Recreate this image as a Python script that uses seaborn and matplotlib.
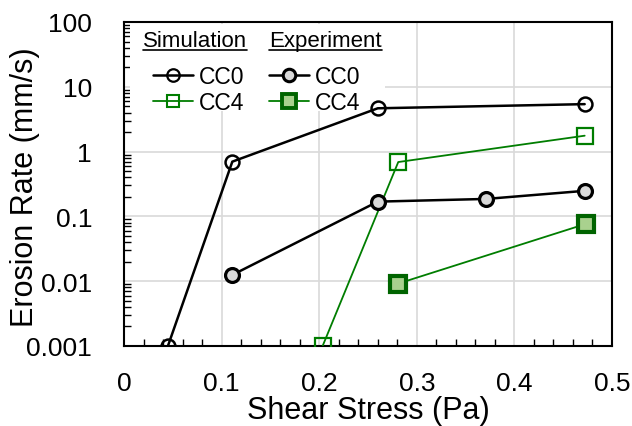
import matplotlib
matplotlib.use("Agg")
import matplotlib.pyplot as plt
import seaborn as sns
import numpy as np
from matplotlib.lines import Line2D
from matplotlib.ticker import MultipleLocator, LogLocator, NullFormatter

# Data
sim_cc0_x = [0.045, 0.111, 0.260, 0.472]
sim_cc0_y = [0.001, 0.70, 4.66, 5.4]
sim_cc4_x = [0.2035, 0.281, 0.472]
sim_cc4_y = [0.001, 0.69, 1.76]
exp_cc0_x = [0.111, 0.260, 0.371, 0.472]
exp_cc0_y = [0.0125, 0.169, 0.186, 0.248]
exp_cc4_x = [0.281, 0.473]
exp_cc4_y = [0.0092, 0.0764]
y_ticks = [0.001, 0.01, 0.1, 1, 10, 100]
y_tick_labels = ["0.001", "0.01", "0.1", "1", "10", "100"]
x_ticks = [0, 0.1, 0.2, 0.3, 0.4, 0.5]
x_tick_labels = ["0", "0.1", "0.2", "0.3", "0.4", "0.5"]

sns.set_style("white")
plt.rcParams['font.family'] = ['Liberation Sans', 'DejaVu Sans']
plt.rcParams.update({"text.color": "black", "axes.labelcolor": "black",
                     "xtick.color": "black", "ytick.color": "black"})

fig = plt.figure(figsize=(6.32, 4.27), dpi=100)
ax = fig.add_axes([124/632, 1-347/427, (612-124)/632, (347-23)/427])

green = "#007d00"
dgreen = "#006400"
gray_fill = "#d9d9d9"
lgreen = "#a9d18e"

sns.lineplot(x=sim_cc0_x, y=sim_cc0_y, ax=ax, color="black", lw=1.8, marker="o",
             markersize=10, markerfacecolor="none", markeredgecolor="black",
             markeredgewidth=1.8, sort=False, zorder=5)
sns.lineplot(x=sim_cc4_x, y=sim_cc4_y, ax=ax, color=green, lw=1.3, marker="s",
             markersize=11, markerfacecolor="none", markeredgecolor=green,
             markeredgewidth=1.6, sort=False, zorder=5)
sns.lineplot(x=exp_cc0_x, y=exp_cc0_y, ax=ax, color="black", lw=1.8, marker="o",
             markersize=10, markerfacecolor=gray_fill, markeredgecolor="black",
             markeredgewidth=2.3, sort=False, zorder=5)
sns.lineplot(x=exp_cc4_x, y=exp_cc4_y, ax=ax, color=green, lw=1.3, marker="s",
             markersize=11.5, markerfacecolor=lgreen, markeredgecolor=dgreen,
             markeredgewidth=3.0, sort=False, zorder=5)

ax.set_yscale("log")
ax.set_xlim(0, 0.5)
ax.set_ylim(0.001, 100)
ax.set_xticks(x_ticks)
ax.set_xticklabels(x_tick_labels)
ax.set_yticks(y_ticks)
ax.set_yticklabels(y_tick_labels)
ax.xaxis.set_minor_locator(MultipleLocator(0.02))
ax.yaxis.set_minor_locator(LogLocator(base=10, subs=np.arange(2, 10)))
ax.yaxis.set_minor_formatter(NullFormatter())
ax.tick_params(axis="both", which="major", direction="in", length=0, labelsize=19,
               colors="black")
ax.tick_params(axis="y", which="major", pad=23)
ax.tick_params(axis="x", which="major", pad=18)
ax.tick_params(axis="x", which="minor", direction="in", length=5, width=1, bottom=True,
               color="black")
ax.tick_params(axis="y", which="minor", direction="in", length=5, width=1, left=True,
               color="black")
ax.grid(True, which="major", color="#d9d9d9", lw=1.2)
ax.set_axisbelow(True)
for s in ax.spines.values():
    s.set_color("black")
    s.set_linewidth(1.5)

ax.set_xlabel("Shear Stress (Pa)", fontsize=22, labelpad=0, color="black")
ax.set_ylabel("Erosion Rate (mm/s)", fontsize=22, color="black")
ax.yaxis.set_label_coords((40-124)/488, (347-187)/324)

# white background behind the legend block
bg = plt.Rectangle(((130-124)/488, (347-112)/324), (385-130)/488, (112-25)/324,
                   transform=ax.transAxes, facecolor="white", edgecolor="none", zorder=2)
ax.add_patch(bg)

# legends
h_sim = [Line2D([], [], color="black", lw=1.8, marker="o", markersize=9,
                markerfacecolor="none", markeredgecolor="black", markeredgewidth=1.6),
         Line2D([], [], color=green, lw=1.3, marker="s", markersize=9,
                markerfacecolor="none", markeredgecolor=green, markeredgewidth=1.5)]
h_exp = [Line2D([], [], color="black", lw=1.8, marker="o", markersize=9,
                markerfacecolor=gray_fill, markeredgecolor="black", markeredgewidth=2.2),
         Line2D([], [], color=green, lw=1.3, marker="s", markersize=10,
                markerfacecolor=lgreen, markeredgecolor=dgreen, markeredgewidth=2.8)]

common = dict(loc="upper left", frameon=False, fontsize=16.5, handlelength=1.75,
              handletextpad=0.25, labelspacing=0.12, borderpad=0, borderaxespad=0,
              labelcolor="black")
leg1 = ax.legend(h_sim, ["CC0", "CC4"], bbox_to_anchor=((153-124)/488, (347-66)/324), **common)
ax.add_artist(leg1)
leg2 = ax.legend(h_exp, ["CC0", "CC4"], bbox_to_anchor=((269-124)/488, (347-66)/324), **common)
leg1.set_zorder(10)
leg2.set_zorder(10)

t1 = ax.text((143-124)/488, (347-47)/324, "Simulation", transform=ax.transAxes,
             fontsize=16, ha="left", va="baseline", zorder=10, color="black")
t2 = ax.text((269-124)/488, (347-47)/324, "Experiment", transform=ax.transAxes,
             fontsize=16, ha="left", va="baseline", zorder=10, color="black")

fig.canvas.draw()
r = fig.canvas.get_renderer()
inv = ax.transAxes.inverted()
for t in (t1, t2):
    bb = t.get_window_extent(r)
    x0, _ = inv.transform((bb.x0, bb.y0))
    x1, _ = inv.transform((bb.x1, bb.y0))
    yy = (347-50.5)/324
    ax.add_line(Line2D([x0, x1], [yy, yy], transform=ax.transAxes,
                       color="black", lw=1.2, zorder=11))

fig.savefig("out.png", dpi=100)
